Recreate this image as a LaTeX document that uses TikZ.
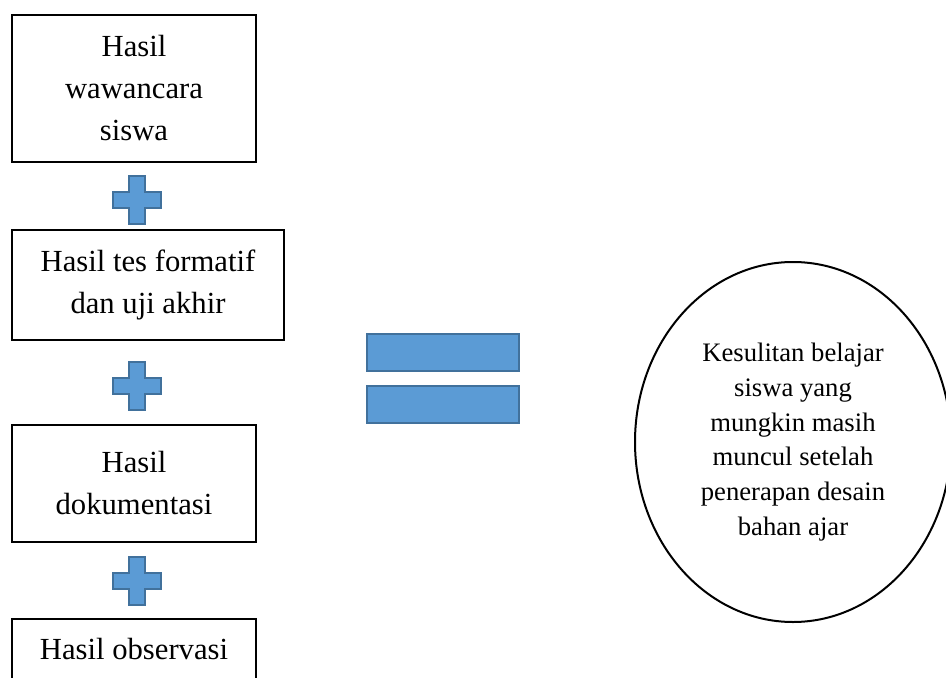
\documentclass[tikz,border=0pt]{standalone}
\usepackage{fontspec}
\setmainfont{Liberation Serif}
\usetikzlibrary{shapes.geometric,positioning}

\definecolor{symfill}{HTML}{5B9BD5}
\definecolor{symdraw}{HTML}{41719C}

\begin{document}
\begin{tikzpicture}[
        x=0.75pt, y=-0.75pt, line join=miter,
        box/.style={draw, line width=1.5pt, align=center, inner sep=0pt,
            font=\fontsize{23}{31.5}\selectfont},
        oval/.style={draw, ellipse, line width=1.5pt, align=center, inner sep=0pt,
            font=\fontsize{20}{26}\selectfont},
        sym/.style={fill=symfill, draw=symdraw, line width=1.8pt},
        bar/.style={sym, rectangle, minimum width=114pt, minimum height=27.75pt, inner sep=0pt}
      ]
      % ---- frame ----
      \useasboundingbox (0,0) rectangle (946,678);
      \clip (0,0) rectangle (946,678);

      % ---- helpers ----
      \newcommand{\plussign}[2]{% x, y of centre
        \begin{scope}[shift={(#1,#2)}]
          \draw[sym] (-8,-24) -- (8,-24) -- (8,-8) -- (24,-8) -- (24,8) -- (8,8)
            -- (8,24) -- (-8,24) -- (-8,8) -- (-24,8) -- (-24,-8) -- (-8,-8) -- cycle;
        \end{scope}
      }

      %==================== LEFT: the four sources ====================
      \node[box, minimum width=183pt, minimum height=110.25pt] (wawancara) at (134,88.5)
        {Hasil\\wawancara\\siswa};
      \node[box, minimum width=204pt, minimum height=82.5pt] (tes) at (148,285)
        {Hasil tes formatif\\dan uji akhir};
      \node[box, minimum width=183pt, minimum height=87.75pt] (dokumentasi) at (134,483.5)
        {Hasil\\dokumentasi};
      \node[box, minimum width=183pt, minimum height=45.75pt] (observasi) at (134,649.5)
        {Hasil observasi};

      % plus signs between the boxes
      \foreach \y in {200,386,581} {
          \plussign{137}{\y}
        }

      %==================== MIDDLE: equals sign ====================
      \node[bar] (eqtop) at (443,352.5) {};
      \node[bar] (eqbot) at (443,404.5) {};

      %==================== RIGHT: the result ====================
      \node[oval, minimum width=237pt, minimum height=270pt] (kesulitan) at (793,442)
        {Kesulitan belajar\\siswa yang\\mungkin masih\\muncul setelah\\penerapan desain\\bahan ajar};

    \end{tikzpicture}
\end{document}
